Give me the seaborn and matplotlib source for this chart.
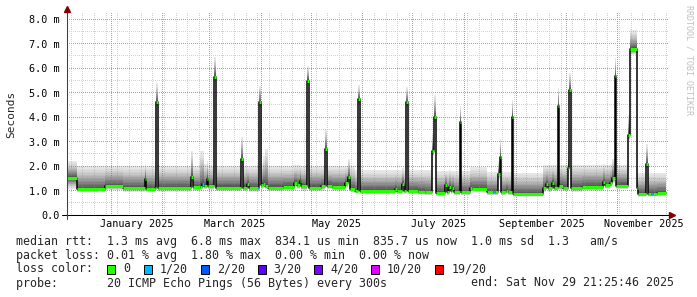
import matplotlib
matplotlib.use("Agg")
import matplotlib.pyplot as plt
import matplotlib.dates as mdates
import matplotlib.transforms as mtransforms
from matplotlib.lines import Line2D
from matplotlib.patches import Rectangle
import numpy as np
import pandas as pd
import seaborn as sns

sns.set_style("white")
plt.rcParams["font.family"] = ["DejaVu Sans Mono", "DejaVu Sans"]

# ---------------- data ----------------
dates = [
    "2024-12-05 12:00", "2024-12-11 12:00", "2024-12-28 12:00", "2025-01-07 22:00", "2025-01-21 02:00",
    "2025-01-22 00:00", "2025-01-27 02:00", "2025-01-28 00:00", "2025-01-29 02:00", "2025-02-18 00:00",
    "2025-02-19 00:00", "2025-02-23 10:00", "2025-02-24 17:00", "2025-02-25 17:00", "2025-02-27 10:00",
    "2025-02-28 10:00", "2025-03-03 22:00", "2025-03-04 22:00", "2025-03-19 22:00", "2025-03-21 00:00",
    "2025-03-23 19:00", "2025-03-24 22:00", "2025-03-29 22:00", "2025-03-31 00:00", "2025-04-01 00:00",
    "2025-04-02 03:00", "2025-04-03 07:00", "2025-04-05 03:00", "2025-04-14 03:00", "2025-04-20 17:00",
    "2025-04-22 12:00", "2025-04-24 07:00", "2025-04-25 05:00", "2025-04-28 17:00", "2025-04-29 17:00",
    "2025-05-06 22:00", "2025-05-09 05:00", "2025-05-10 05:00", "2025-05-13 12:00", "2025-05-21 07:00",
    "2025-05-23 02:00", "2025-05-24 07:00", "2025-05-27 00:00", "2025-05-28 22:00", "2025-05-30 00:00",
    "2025-06-20 07:00", "2025-06-21 12:00", "2025-06-24 12:00", "2025-06-25 12:00", "2025-06-26 22:00",
    "2025-06-27 22:00", "2025-07-04 02:00", "2025-07-08 05:00", "2025-07-12 17:00", "2025-07-13 22:00",
    "2025-07-15 00:00", "2025-07-20 05:00", "2025-07-21 07:00", "2025-07-22 14:00", "2025-07-23 19:00",
    "2025-07-24 17:00", "2025-07-25 14:00", "2025-07-29 00:00", "2025-07-30 00:00", "2025-08-04 12:00",
    "2025-08-05 10:00", "2025-08-14 10:00", "2025-08-18 07:00", "2025-08-19 07:00", "2025-08-21 00:00",
    "2025-08-22 00:00", "2025-08-23 00:00", "2025-08-26 02:00", "2025-08-27 02:00", "2025-08-29 05:00",
    "2025-08-30 05:00", "2025-09-17 00:00", "2025-09-19 02:00", "2025-09-20 02:00", "2025-09-22 17:00",
    "2025-09-23 17:00", "2025-09-25 19:00", "2025-09-26 19:00", "2025-09-29 00:00", "2025-10-01 19:00",
    "2025-10-02 22:00", "2025-10-03 19:00", "2025-10-10 10:00", "2025-10-23 02:00", "2025-10-24 05:00",
    "2025-10-27 05:00", "2025-10-28 17:00", "2025-10-30 02:00", "2025-10-31 02:00", "2025-11-07 00:00",
    "2025-11-08 00:00", "2025-11-12 05:00", "2025-11-13 05:00", "2025-11-17 22:00", "2025-11-18 22:00",
    "2025-11-21 00:00", "2025-11-22 00:00", "2025-11-24 14:00", "2025-11-29 21:25",
]
median_ms = [
    1.50, 1.06, 1.18, 1.09, 1.47,
    1.06, 1.12, 4.60, 1.11, 1.56,
    1.13, 1.15, 1.25, 1.20, 1.47,
    1.18, 5.65, 1.12, 2.28, 1.12,
    1.27, 1.10, 1.10, 4.60, 1.22,
    1.27, 1.20, 1.12, 1.15, 1.30,
    1.22, 1.40, 1.17, 5.48, 1.12,
    1.17, 2.68, 1.20, 1.15, 1.30,
    1.55, 1.06, 0.97, 4.72, 0.98,
    1.05, 0.98, 1.27, 1.00, 4.60,
    0.98, 0.95, 0.92, 2.62, 4.00,
    0.90, 1.22, 0.93, 1.15, 0.98,
    1.12, 0.93, 3.80, 0.93, 1.10,
    1.07, 0.93, 0.93, 0.93, 1.67,
    2.38, 0.93, 1.00, 0.93, 3.99,
    0.86, 1.10, 1.25, 1.10, 1.30,
    1.12, 4.45, 1.18, 1.12, 1.93,
    5.10, 1.10, 1.15, 1.35, 1.22,
    1.30, 1.50, 5.67, 1.20, 3.27,
    6.76, 1.10, 0.86, 2.08, 0.86,
    0.86, 0.86, 0.90, 0.90,
]
smoke_lo = [
    1.05, 0.93, 1.02, 0.95, 1.30,
    0.93, 0.97, 4.40, 0.95, 1.35,
    0.98, 1.00, 1.10, 1.05, 1.30,
    1.03, 5.45, 0.97, 2.10, 0.97,
    1.10, 0.95, 0.95, 4.40, 1.05,
    1.10, 1.05, 0.97, 1.00, 1.12,
    1.05, 1.20, 1.00, 5.30, 0.97,
    1.00, 2.50, 1.05, 1.00, 1.10,
    1.35, 0.95, 0.88, 4.50, 0.85,
    0.90, 0.85, 1.10, 0.87, 4.40,
    0.85, 0.83, 0.80, 2.40, 3.80,
    0.78, 1.05, 0.80, 1.00, 0.85,
    1.00, 0.80, 3.60, 0.80, 0.95,
    0.93, 0.80, 0.80, 0.80, 1.50,
    2.20, 0.80, 0.87, 0.80, 3.80,
    0.75, 0.95, 1.08, 0.95, 1.12,
    0.97, 4.25, 1.00, 0.97, 1.75,
    4.90, 0.95, 1.00, 1.15, 1.05,
    1.12, 1.30, 5.45, 1.05, 3.05,
    6.55, 0.95, 0.75, 1.90, 0.75,
    0.75, 0.75, 0.78, 0.78,
]
smoke_hi = [
    2.20, 2.02, 2.02, 2.00, 2.10,
    2.00, 2.00, 5.40, 2.00, 2.60,
    2.00, 2.60, 2.60, 2.10, 2.20,
    2.00, 6.45, 2.00, 3.20, 2.00,
    2.00, 2.00, 2.00, 5.27, 2.10,
    2.40, 2.70, 2.00, 2.00, 2.05,
    2.05, 2.05, 2.00, 6.08, 2.00,
    2.00, 3.50, 2.00, 2.00, 2.00,
    2.30, 2.00, 1.85, 5.30, 1.84,
    1.84, 1.84, 1.90, 1.84, 5.24,
    1.84, 1.84, 1.84, 3.30, 4.90,
    1.80, 1.80, 1.80, 1.85, 1.80,
    1.80, 1.80, 4.45, 1.80, 1.95,
    1.95, 1.75, 1.75, 1.75, 2.20,
    3.10, 1.75, 1.75, 1.75, 4.70,
    1.73, 2.05, 2.05, 2.05, 2.05,
    2.05, 5.20, 2.05, 2.05, 2.40,
    5.80, 2.05, 2.05, 2.10, 2.05,
    2.10, 2.30, 6.40, 2.05, 4.10,
    7.55, 1.90, 1.72, 2.90, 1.72,
    1.72, 1.72, 1.72, 1.72,
]
loss_idx = [
    0, 0, 0, 0, 0, 0, 0, 0, 0, 0,
    0, 0, 1, 0, 0, 0, 0, 0, 0, 0,
    0, 0, 1, 0, 0, 0, 0, 0, 0, 0,
    0, 0, 0, 0, 0, 0, 0, 0, 0, 0,
    0, 0, 0, 0, 0, 0, 0, 0, 0, 0,
    0, 0, 0, 0, 0, 0, 0, 0, 0, 0,
    0, 0, 0, 0, 0, 0, 0, 1, 0, 0,
    0, 0, 0, 0, 0, 0, 0, 0, 0, 0,
    0, 0, 0, 0, 0, 0, 0, 0, 0, 0,
    0, 0, 0, 0, 0, 0, 0, 0, 0, 0,
    1, 0, 0, 0,
]

loss_labels = ["0", "1/20", "2/20", "3/20", "4/20", "10/20", "19/20"]
loss_colors = ["#26ff00", "#00b8ff", "#0059ff", "#5e00ff", "#7e00ff", "#dd00ff", "#ff0000"]

y_ticks = [0, 1, 2, 3, 4, 5, 6, 7, 8]
y_tick_labels = ["0.0", "1.0 m", "2.0 m", "3.0 m", "4.0 m", "5.0 m", "6.0 m", "7.0 m", "8.0 m"]
month_labels = ["January 2025", "March 2025", "May 2025", "July 2025", "September 2025", "November 2025"]
month_label_pos = ["2025-01-16 06:00", "2025-03-16 06:00", "2025-05-16 06:00",
                   "2025-07-16 06:00", "2025-09-16 06:00", "2025-11-16 06:00"]

stats_rtt = "median rtt:  1.3 ms avg  6.8 ms max  834.1 us min  835.7 us now  1.0 ms sd  1.3   am/s"
stats_loss = "packet loss: 0.01 % avg  1.80 % max  0.00 % min  0.00 % now"
probe_text = "probe:       20 ICMP Echo Pings (56 Bytes) every 300s"
end_text = "end: Sat Nov 29 21:25:46 2025"

# ---------------- figure ----------------
W, H = 697, 297
fig = plt.figure(figsize=(W / 100, H / 100), dpi=100)
fig.patch.set_facecolor("white")
ax = fig.add_axes([67 / W, 1 - 215 / H, (668 - 67) / W, (215 - 13) / H])
ax.set_facecolor("white")

df = pd.DataFrame({
    "time": pd.to_datetime(dates),
    "median": median_ms,
    "lo": smoke_lo,
    "hi": smoke_hi,
    "loss": loss_idx,
})
t = df["time"].values
med = df["median"].to_numpy()
lo = df["lo"].to_numpy()
hi = df["hi"].to_numpy()

# smoke layers: outer (light) to inner (dark)
fracs = np.linspace(1.0, 0.04, 16)
grays = 0.91 - 0.66 * (1 - fracs) ** 1.4
for f, g in zip(fracs, grays):
    ax.fill_between(t, med - (med - lo) * f, med + (hi - med) * f, step="post",
                    color=(g, g, g), lw=0, zorder=1)

# median line (black step) and coloured median segments
sns.lineplot(data=df, x="time", y="median", drawstyle="steps-post", color="black",
             lw=1.1, ax=ax, zorder=4, estimator=None, sort=False, legend=False)
seg_colors = [loss_colors[i] for i in df["loss"].to_numpy()[:-1]]
ax.hlines(med[:-1], t[:-1], t[1:], colors=seg_colors, lw=2.2, zorder=5)

x_lo, x_hi = pd.Timestamp("2024-12-05 14:00"), pd.Timestamp("2025-12-01 00:00")
ax.set_xlim(x_lo, x_hi)
ax.set_ylim(0, 8.25)

month_starts = pd.date_range("2025-01-01", "2025-11-01", freq="MS")
weeks = pd.date_range("2024-12-08", "2025-11-30", freq="7D")
ax.set_xticks(month_starts)
ax.set_xticks(weeks, minor=True)
ax.set_xticklabels([])
ax.set_yticks(y_ticks)
ax.set_yticklabels(y_tick_labels)
ax.set_yticks(np.arange(0.5, 8.25, 1.0), minor=True)
ax.grid(False)
ax.tick_params(axis="both", which="both", direction="inout", length=3, width=0.7,
               color=(0.55, 0.55, 0.55))
ax.tick_params(axis="y", which="major", labelsize=7.3, pad=4, labelcolor="black")
ax.set_xlabel("")
ax.set_ylabel("")
for s in ax.spines.values():
    s.set_visible(False)

# pixel-exact dotted grid (rrdtool style), drawn as a translucent overlay
fig.canvas.draw()
bb = ax.get_window_extent()
gw, gh = int(round(bb.width)), int(round(bb.height))
grid_img = np.zeros((gh, gw, 4))
red_grid = (0.9, 0.3, 0.3, 0.68)
gray_grid = (0.56, 0.56, 0.56, 0.4)

def col_of(d):
    return int(np.floor(ax.transData.transform((mdates.date2num(d), 0))[0] - bb.x0))

def row_of(v):
    return int(np.floor(bb.y1 - ax.transData.transform((mdates.date2num(x_lo), v))[1]))

for v in np.arange(0.5, 8.25, 1.0):
    r = min(max(row_of(v), 0), gh - 1)
    grid_img[r, 0::2] = gray_grid
for d in weeks:
    c = col_of(d)
    if 0 <= c < gw:
        grid_img[0::2, c] = gray_grid
for v in y_ticks[1:]:
    r = min(max(row_of(v), 0), gh - 1)
    grid_img[r, 0::2] = red_grid
for d in month_starts:
    c = col_of(d)
    if 0 <= c < gw:
        grid_img[0::2, c] = red_grid
ax.imshow(grid_img, extent=[mdates.date2num(x_lo), mdates.date2num(x_hi), 0, 8.25],
          aspect="auto", interpolation="nearest", origin="upper", zorder=2.5)
ax.set_xlim(x_lo, x_hi)
ax.set_ylim(0, 8.25)

# month labels centred mid-month
trans = mtransforms.blended_transform_factory(ax.transData, ax.transAxes)
for lab, pos in zip(month_labels, month_label_pos):
    ax.text(mdates.date2num(pd.Timestamp(pos)), -9.3 / 202, lab, transform=trans,
            ha="center", va="center", fontsize=7.3, color="black")

# axes lines and arrows
fx = lambda x: x / W
fy = lambda y: 1 - y / H
fig.add_artist(Line2D([fx(62), fx(671)], [fy(215), fy(215)], color="black", lw=0.75))
fig.add_artist(Line2D([fx(67), fx(67)], [fy(219), fy(10)], color="#404040", lw=0.75))
fig.add_artist(Line2D([fx(672)], [fy(215)], marker=">", markersize=4.5, color="#7f0000", lw=0))
fig.add_artist(Line2D([fx(67)], [fy(9)], marker="^", markersize=4.5, color="#7f0000", lw=0))

# y label and watermark
fig.text(fx(11), fy(114), "Seconds", rotation=90, ha="center", va="center", fontsize=8)
fig.text(fx(689), fy(60), "RRDTOOL / TOBI OETIKER", rotation=270, ha="center", va="center",
         fontsize=6, color="#c0c0c0")

# legend / stats rows
cw = 7.0
x0 = 16
fs = 8.4
fig.text(fx(x0), fy(241), stats_rtt, ha="left", va="center", fontsize=fs)
fig.text(fx(x0), fy(255), stats_loss, ha="left", va="center", fontsize=fs)
fig.text(fx(x0), fy(269), "loss color:", ha="left", va="center", fontsize=fs)
box_chars = [13, 18.3, 26.4, 34.5, 42.6, 50.7, 59.9]
for bc, lab, col in zip(box_chars, loss_labels, loss_colors):
    bx = x0 + bc * cw
    fig.add_artist(Rectangle((fx(bx), fy(273.5)), 8 / W, 9 / H, facecolor=col,
                             edgecolor="black", lw=0.7, transform=fig.transFigure))
    fig.text(fx(bx + 16), fy(269), lab, ha="left", va="center", fontsize=fs)
fig.text(fx(x0), fy(283), probe_text, ha="left", va="center", fontsize=fs)
fig.text(fx(x0 + 65 * cw), fy(283), end_text, ha="left", va="center", fontsize=fs)

fig.savefig("out.png", dpi=100, facecolor="white")
